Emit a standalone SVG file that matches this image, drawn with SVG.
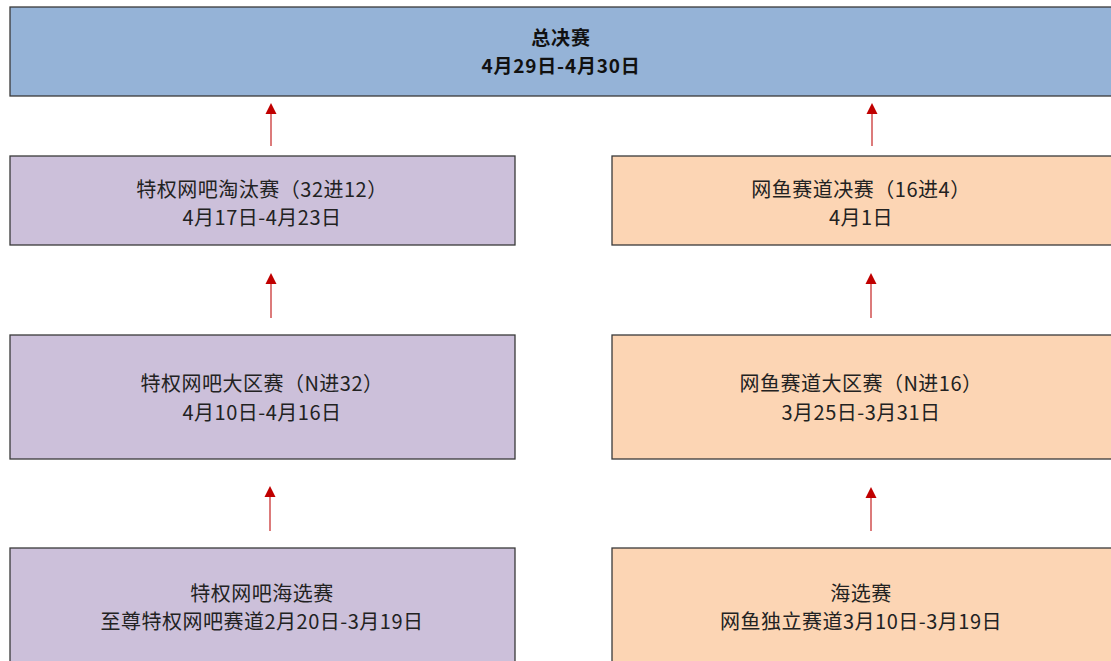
<svg xmlns="http://www.w3.org/2000/svg" width="1111" height="661" viewBox="0 0 1111 661">
<style>
.box{stroke:#3a3a3a;stroke-width:1.3}
.blue{fill:#95b3d7}
.purple{fill:#ccc0da}
.orange{fill:#fcd5b4}
text{font-family:"Microsoft YaHei","Noto Sans CJK SC",sans-serif;font-size:20px;letter-spacing:0.5px;fill:#222;text-anchor:middle}
.b{font-weight:bold;font-size:19px;letter-spacing:0.8px;fill:#111}
.conn{stroke:#d45a5a;stroke-width:1.6;fill:none}
.head{fill:#c00000}
</style>
<rect width="1111" height="661" fill="#ffffff"/>
<g id="final">
<rect class="box blue" x="10" y="7" width="1102" height="89"/>
<text class="b" x="561" y="45">总决赛</text>
<text class="b" x="561" y="73">4月29日-4月30日</text>
</g>
<g id="tq-knockout">
<rect class="box purple" x="10" y="156" width="505" height="89"/>
<text x="262" y="197">特权网吧淘汰赛（32进12）</text>
<text x="262" y="225">4月17日-4月23日</text>
</g>
<g id="wy-final">
<rect class="box orange" x="612" y="156" width="500" height="89"/>
<text x="861" y="197">网鱼赛道决赛（16进4）</text>
<text x="861" y="225">4月1日</text>
</g>
<g id="tq-region">
<rect class="box purple" x="10" y="335" width="505" height="124"/>
<text x="262" y="391">特权网吧大区赛（N进32）</text>
<text x="262" y="420">4月10日-4月16日</text>
</g>
<g id="wy-region">
<rect class="box orange" x="612" y="335" width="500" height="124"/>
<text x="861" y="391">网鱼赛道大区赛（N进16）</text>
<text x="861" y="420">3月25日-3月31日</text>
</g>
<g id="tq-open">
<rect class="box purple" x="10" y="548" width="505" height="120"/>
<text x="262" y="601">特权网吧海选赛</text>
<text x="262" y="629">至尊特权网吧赛道2月20日-3月19日</text>
</g>
<g id="wy-open">
<rect class="box orange" x="612" y="548" width="500" height="120"/>
<text x="861" y="601">海选赛</text>
<text x="861" y="629">网鱼独立赛道3月10日-3月19日</text>
</g>
<g id="connectors">
<line class="conn" x1="271" y1="146" x2="271" y2="112"/>
<polygon class="head" points="271,103 265.5,114 276.5,114"/>
<line class="conn" x1="872" y1="146" x2="872" y2="112"/>
<polygon class="head" points="872,103 866.5,114 877.5,114"/>
<line class="conn" x1="271" y1="318" x2="271" y2="283"/>
<polygon class="head" points="271,273 265.5,284 276.5,284"/>
<line class="conn" x1="871" y1="318" x2="871" y2="283"/>
<polygon class="head" points="871,273 865.5,284 876.5,284"/>
<line class="conn" x1="270" y1="531" x2="270" y2="496"/>
<polygon class="head" points="270,486 264.5,497 275.5,497"/>
<line class="conn" x1="871" y1="531" x2="871" y2="497"/>
<polygon class="head" points="871,487 865.5,498 876.5,498"/>
</g>
</svg>
